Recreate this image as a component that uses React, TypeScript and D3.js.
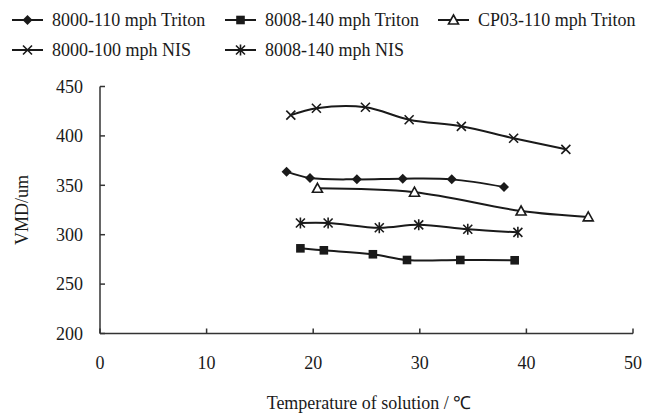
import React from "react";
import * as d3 from "d3";

const seriesNames = [
  "8000-110 mph Triton",
  "8008-140 mph Triton",
  "CP03-110 mph Triton",
  "8000-100 mph NIS",
  "8008-140 mph NIS",
];
const markerKinds = ["diamond", "square", "triangle", "cross", "asterisk"];

const s1x = [17.5, 19.7, 24.1, 28.4, 33.0, 37.9];
const s1y = [363.8, 357.4, 356, 356.7, 356, 348.3];
const s2x = [18.8, 21.0, 25.6, 28.8, 33.8, 38.9];
const s2y = [286.2, 284.2, 280.2, 274.4, 274.4, 274.1];
const s3x = [20.4, 29.5, 39.5, 45.8];
const s3y = [347, 343, 324, 318];
const s4x = [17.9, 20.3, 24.9, 29.0, 33.9, 38.8, 43.7];
const s4y = [421, 428, 429, 416.4, 409.7, 397.6, 386.4];
const s5x = [18.8, 21.4, 26.2, 29.9, 34.5, 39.2];
const s5y = [311.8, 311.8, 307, 310, 305.5, 302.4];

const xsAll = [s1x, s2x, s3x, s4x, s5x];
const ysAll = [s1y, s2y, s3y, s4y, s5y];

const xTicks = [0, 10, 20, 30, 40, 50];
const yTicks = [200, 250, 300, 350, 400, 450];

const W = 648;
const H = 416;
const FONT = "'Liberation Serif', 'Times New Roman', serif";
const INK = "#1a1a1a";

function Marker({ kind, x, y }: { kind: string; x: number; y: number }) {
  if (kind === "diamond") {
    const r = 5;
    return <path d={`M${x},${y - r}L${x + r},${y}L${x},${y + r}L${x - r},${y}Z`} fill={INK} />;
  }
  if (kind === "square") {
    const r = 4.3;
    return <rect x={x - r} y={y - r} width={2 * r} height={2 * r} fill={INK} />;
  }
  if (kind === "triangle") {
    const r = 5;
    return (
      <path
        d={`M${x},${y - r}L${x + r},${y + r * 0.8}L${x - r},${y + r * 0.8}Z`}
        fill="#fff"
        stroke={INK}
        strokeWidth={1.6}
      />
    );
  }
  if (kind === "cross") {
    const r = 4.5;
    return (
      <path
        d={`M${x - r},${y - r}L${x + r},${y + r}M${x - r},${y + r}L${x + r},${y - r}`}
        stroke={INK}
        strokeWidth={1.6}
      />
    );
  }
  const r = 4.5;
  return (
    <path
      d={`M${x - r},${y - r}L${x + r},${y + r}M${x - r},${y + r}L${x + r},${y - r}M${x},${y - r - 1}L${x},${y + r + 1}`}
      stroke={INK}
      strokeWidth={1.6}
    />
  );
}

export default function App() {
  const x = d3.scaleLinear().domain([0, 50]).range([100, 633]);
  const y = d3.scaleLinear().domain([200, 450]).range([333.5, 86.5]);
  const line = d3
    .line<[number, number]>()
    .x((d) => x(d[0]))
    .y((d) => y(d[1]))
    .curve(d3.curveCatmullRom.alpha(0.5));

  const legendPos = [
    { sx: 12, ty: 20 },
    { sx: 225, ty: 20 },
    { sx: 438, ty: 20 },
    { sx: 12, ty: 50 },
    { sx: 225, ty: 50 },
  ];

  return (
    <svg
      width={W}
      height={H}
      style={{ position: "absolute", left: 0, top: 0, background: "#fff" }}
      fontFamily={FONT}
    >
      <rect width={W} height={H} fill="#fff" />
      {/* axes */}
      <line x1={x(0)} x2={x(0)} y1={y(450)} y2={y(200)} stroke="#333" strokeWidth={1.5} />
      <line x1={x(0)} x2={x(50)} y1={y(200)} y2={y(200)} stroke="#333" strokeWidth={1.5} />
      {yTicks.map((t) => (
        <g key={"y" + t}>
          <line x1={x(0)} x2={x(0) + 5} y1={y(t)} y2={y(t)} stroke="#333" strokeWidth={1.5} />
          <text x={83} y={y(t)} dy="0.35em" textAnchor="end" fontSize={18} fill={INK}>
            {t}
          </text>
        </g>
      ))}
      {xTicks.map((t) => (
        <g key={"x" + t}>
          <line x1={x(t)} x2={x(t)} y1={y(200)} y2={y(200) - 5} stroke="#333" strokeWidth={1.5} />
          <text x={x(t)} y={363} dy="0.35em" textAnchor="middle" fontSize={18} fill={INK}>
            {t}
          </text>
        </g>
      ))}
      <text
        transform={`translate(22,${(y(200) + y(450)) / 2}) rotate(-90)`}
        textAnchor="middle"
        dy="0.35em"
        fontSize={18}
        fill={INK}
      >
        VMD/um
      </text>
      <text x={369} y={403} dy="0.35em" textAnchor="middle" fontSize={18} fill={INK}>
        Temperature of solution / ℃
      </text>

      {/* series */}
      {xsAll.map((xs, i) => {
        const pts: [number, number][] = xs.map((v, j) => [v, ysAll[i][j]]);
        return (
          <g key={"s" + i}>
            <path d={line(pts) || ""} fill="none" stroke={INK} strokeWidth={2} />
            {pts.map((p, j) => (
              <Marker key={j} kind={markerKinds[i]} x={x(p[0])} y={y(p[1])} />
            ))}
          </g>
        );
      })}

      {/* legend */}
      {seriesNames.map((n, i) => {
        const lp = legendPos[i];
        return (
          <g key={"l" + i}>
            <line x1={lp.sx} x2={lp.sx + 31} y1={lp.ty} y2={lp.ty} stroke={INK} strokeWidth={2} />
            <Marker kind={markerKinds[i]} x={lp.sx + 15.5} y={lp.ty} />
            <text x={lp.sx + 40} y={lp.ty} dy="0.35em" fontSize={18} fill={INK}>
              {n}
            </text>
          </g>
        );
      })}
    </svg>
  );
}
